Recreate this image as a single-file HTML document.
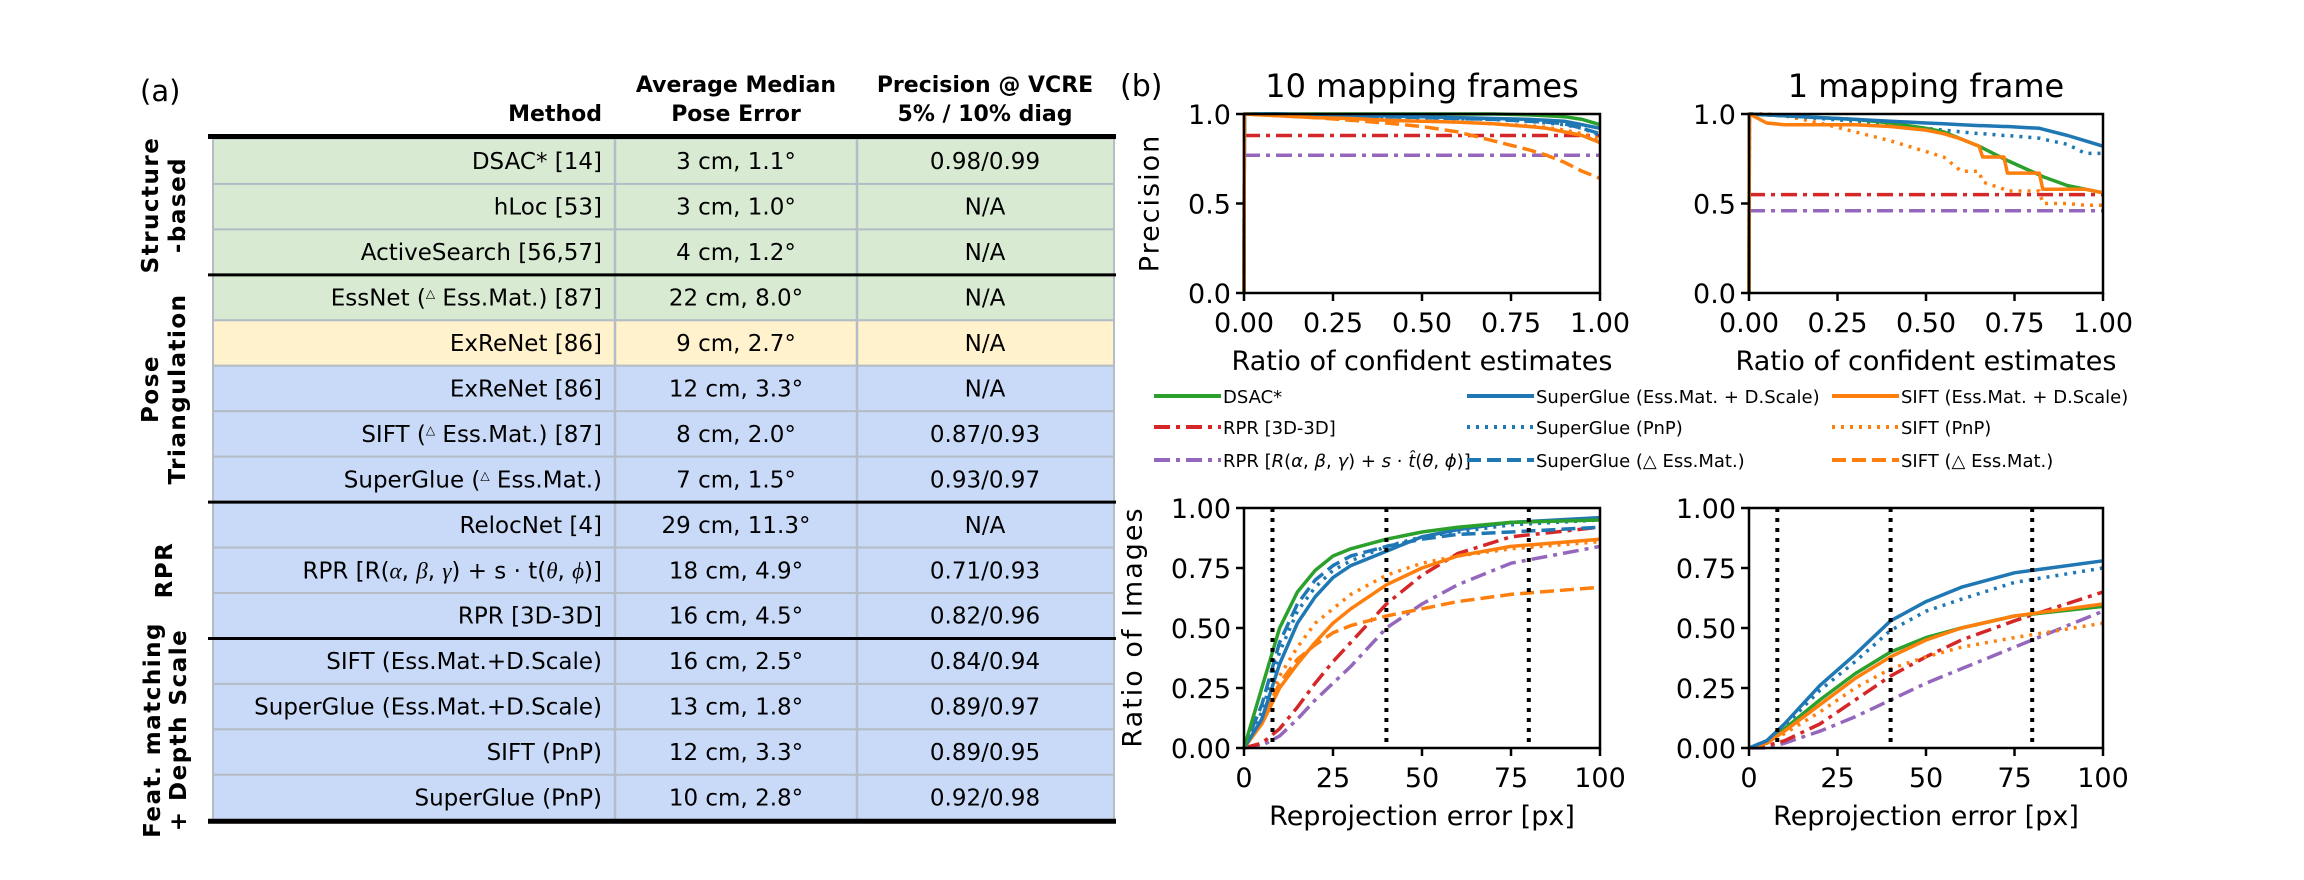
<!DOCTYPE html>
<html><head><meta charset="utf-8"><style>
html,body{margin:0;padding:0;background:#fff;}
svg{display:block;font-family:"DejaVu Sans","Liberation Sans",sans-serif;}
</style></head><body>
<svg id="fig" width="2304" height="880" viewBox="0 0 2304 880" xmlns="http://www.w3.org/2000/svg">
<text x="140" y="101" font-size="29">(a)</text>
<g id="table"></g>
<text x="1120" y="96" font-size="30">(b)</text>
<g id="charts"></g>
</svg>
<script>
const NS="http://www.w3.org/2000/svg";
function el(tag,attrs,parent,text){const e=document.createElementNS(NS,tag);for(const k in attrs)e.setAttribute(k,attrs[k]);if(text!==undefined)e.textContent=text;if(parent)parent.appendChild(e);return e;}

/* ---------- TABLE ---------- */
const rowMethods=["DSAC* [14]","hLoc [53]","ActiveSearch [56,57]","EssNet (△ Ess.Mat.) [87]","ExReNet [86]","ExReNet [86]","SIFT (△ Ess.Mat.) [87]","SuperGlue (△ Ess.Mat.)","RelocNet [4]","RPR_ROT","RPR [3D-3D]","SIFT (Ess.Mat.+D.Scale)","SuperGlue (Ess.Mat.+D.Scale)","SIFT (PnP)","SuperGlue (PnP)"];
const rowErrors=["3 cm, 1.1°","3 cm, 1.0°","4 cm, 1.2°","22 cm, 8.0°","9 cm, 2.7°","12 cm, 3.3°","8 cm, 2.0°","7 cm, 1.5°","29 cm, 11.3°","18 cm, 4.9°","16 cm, 4.5°","16 cm, 2.5°","13 cm, 1.8°","12 cm, 3.3°","10 cm, 2.8°"];
const rowPrec=["0.98/0.99","N/A","N/A","N/A","N/A","N/A","0.87/0.93","0.93/0.97","N/A","0.71/0.93","0.82/0.96","0.84/0.94","0.89/0.97","0.89/0.95","0.92/0.98"];
const rowColors=["#d9ead3","#d9ead3","#d9ead3","#d9ead3","#fff2cc","#c9daf8","#c9daf8","#c9daf8","#c9daf8","#c9daf8","#c9daf8","#c9daf8","#c9daf8","#c9daf8","#c9daf8"];
const T=document.getElementById('table');
const TL=213,C1=615,C2=857,TR=1114,TOP=138.5,RH=45.45;
let h;
h=el('text',{x:602,y:121,'font-size':22,'font-weight':'bold','text-anchor':'end'},T,'Method');

h=el('text',{x:736,y:92,'font-size':22,'font-weight':'bold','text-anchor':'middle'},T,'Average Median');

h=el('text',{x:736,y:121,'font-size':22,'font-weight':'bold','text-anchor':'middle'},T,'Pose Error');

h=el('text',{x:985,y:92,'font-size':22,'font-weight':'bold','text-anchor':'middle'},T,'Precision @ VCRE');

h=el('text',{x:985,y:121,'font-size':22,'font-weight':'bold','text-anchor':'middle'},T,'5% / 10% diag');

for(let i=0;i<rowMethods.length;i++){
  const y=TOP+i*RH;
  const r=el('rect',{x:TL,y:y,width:TR-TL,height:RH,fill:rowColors[i],stroke:'#b4bcc6','stroke-width':2},T);
  
  const by=y+RH/2+8;
  let t;
  if(rowMethods[i]==="RPR_ROT"){
    t=el('text',{x:602,y:by,'font-size':23,'text-anchor':'end'},T);
    t.innerHTML='RPR [R(<tspan font-family="Liberation Serif" font-style="italic">α</tspan>, <tspan font-family="Liberation Serif" font-style="italic">β</tspan>, <tspan font-family="Liberation Serif" font-style="italic">γ</tspan>) + s · t(<tspan font-family="Liberation Serif" font-style="italic">θ</tspan>, <tspan font-family="Liberation Serif" font-style="italic">ϕ</tspan>)]';
  } else if(rowMethods[i].indexOf('△')>=0){
    t=el('text',{x:602,y:by,'font-size':23,'text-anchor':'end'},T);
    const parts=rowMethods[i].split('△');
    t.innerHTML=parts[0]+'<tspan font-size="12" dy="-8">△</tspan><tspan dy="8">'+parts[1]+'</tspan>';
  } else {
    t=el('text',{x:602,y:by,'font-size':23,'text-anchor':'end'},T,rowMethods[i]);
  }
  
  t=el('text',{x:736,y:by,'font-size':23,'text-anchor':'middle'},T,rowErrors[i]);
  
  t=el('text',{x:985,y:by,'font-size':23,'text-anchor':'middle'},T,rowPrec[i]);
  
}
[C1,C2].forEach(x=>{const l=el('line',{x1:x,x2:x,y1:TOP,y2:TOP+15*RH,stroke:'#b4bcc6','stroke-width':2.5},T);});
[[TOP-2,5],[TOP+15*RH+1,5],[TOP+3*RH,3],[TOP+8*RH,3],[TOP+11*RH,3]].forEach(a=>{const l=el('line',{x1:208,x2:TR+2,y1:a[0],y2:a[0],stroke:'#000','stroke-width':a[1]},T);});
const groups=[["Structure","-based",205,150,177],["Pose","Triangulation",389,150,177],["RPR","",570,164,0],["Feat. matching","+ Depth Scale",730,152,178]];
groups.forEach(g=>{
  const t=el('text',{transform:`translate(0,${g[2]}) rotate(-90)`,'font-size':23,'letter-spacing':1.5,'font-weight':'bold','text-anchor':'middle'},T);
  
  el('tspan',{x:0,y:g[3]+8},t,g[0]);
  if(g[1])el('tspan',{x:0,y:g[4]+8},t,g[1]);
});

/* ---------- CHART DATA ---------- */
const COL={green:'#2ca02c',blue:'#1f77b4',orange:'#ff7f0e',red:'#d62728',purple:'#9467bd'};
const DASH={solid:'',dot:'3,6',dash:'14,6',dashdot:'16,6,4,6'};
const precTicksY=[0,0.5,1.0],precTickLabelsY=["0.0","0.5","1.0"];
const precTicksX=[0,0.25,0.5,0.75,1.0],precTickLabelsX=["0.00","0.25","0.50","0.75","1.00"];
const reTicksY=[0,0.25,0.5,0.75,1.0],reTickLabelsY=["0.00","0.25","0.50","0.75","1.00"];
const reTicksX=[0,25,50,75,100],reTickLabelsX=["0","25","50","75","100"];
const thresholds=[8,40,80];

const p10X=[0,0.001,0.1,0.2,0.3,0.4,0.5,0.6,0.7,0.8,0.85,0.9,0.95,1.0];
const p10_dsac=[0,1,1,1,1,1,1,1,1,0.995,0.99,0.985,0.97,0.94];
const p10_sgSolid=[0,1,1,0.995,0.99,0.99,0.985,0.98,0.975,0.97,0.965,0.96,0.94,0.92];
const p10_sgDot=[0,1,1,0.995,0.99,0.985,0.98,0.975,0.97,0.96,0.95,0.94,0.92,0.88];
const p10_sgDash=[0,1,1,0.995,0.99,0.985,0.98,0.975,0.97,0.96,0.955,0.945,0.92,0.89];
const p10_siftSolid=[0,1,0.99,0.98,0.975,0.965,0.96,0.955,0.945,0.93,0.92,0.9,0.88,0.84];
const p10_siftDot=[0,1,0.99,0.985,0.975,0.97,0.965,0.955,0.945,0.935,0.925,0.91,0.89,0.86];
const p10_siftDash=[0,1,0.99,0.98,0.965,0.95,0.93,0.9,0.85,0.8,0.77,0.73,0.68,0.64];
const p10_rpr3d=[0.88,0.88,0.88,0.88,0.88,0.88,0.88,0.88,0.88,0.88,0.88,0.88,0.88,0.88];
const p10_rprRot=[0.77,0.77,0.77,0.77,0.77,0.77,0.77,0.77,0.77,0.77,0.77,0.77,0.77,0.77];

const p1X=[0,0.001,0.05,0.1,0.2,0.3,0.4,0.5,0.55,0.6,0.65,0.66,0.72,0.73,0.82,0.83,0.9,0.95,1.0];
const p1_dsac=[0,1,0.995,0.99,0.98,0.97,0.95,0.92,0.9,0.86,0.82,0.81,0.75,0.74,0.66,0.65,0.6,0.58,0.56];
const p1_sgSolid=[0,1,0.995,0.99,0.98,0.97,0.96,0.95,0.945,0.94,0.935,0.935,0.93,0.93,0.92,0.915,0.88,0.85,0.82];
const p1_sgDot=[0,1,0.995,0.99,0.975,0.96,0.945,0.92,0.91,0.9,0.89,0.89,0.88,0.88,0.865,0.86,0.83,0.78,0.78];
const p1_siftSolid=[0,1,0.95,0.94,0.94,0.94,0.93,0.91,0.89,0.86,0.82,0.76,0.76,0.67,0.67,0.58,0.58,0.58,0.56];
const p1_siftDot=[0,1,1,0.99,0.95,0.9,0.85,0.79,0.76,0.68,0.68,0.62,0.58,0.57,0.57,0.5,0.5,0.49,0.49];
const p1_rpr3d=[0.55,0.55,0.55,0.55,0.55,0.55,0.55,0.55,0.55,0.55,0.55,0.55,0.55,0.55,0.55,0.55,0.55,0.55,0.55];
const p1_rprRot=[0.46,0.46,0.46,0.46,0.46,0.46,0.46,0.46,0.46,0.46,0.46,0.46,0.46,0.46,0.46,0.46,0.46,0.46,0.46];

const reX=[0,5,10,15,20,25,30,40,50,60,75,100];
const r10_dsac=[0,0.25,0.5,0.65,0.74,0.8,0.83,0.87,0.9,0.92,0.94,0.95];
const r10_sgSolid=[0,0.12,0.35,0.52,0.63,0.71,0.76,0.82,0.88,0.91,0.94,0.96];
const r10_sgDot=[0,0.15,0.4,0.57,0.67,0.74,0.78,0.84,0.88,0.9,0.93,0.95];
const r10_sgDash=[0,0.18,0.44,0.6,0.7,0.76,0.8,0.84,0.87,0.89,0.9,0.92];
const r10_siftSolid=[0,0.1,0.25,0.35,0.44,0.52,0.58,0.68,0.75,0.8,0.84,0.87];
const r10_siftDot=[0,0.12,0.3,0.42,0.52,0.58,0.64,0.72,0.77,0.8,0.83,0.86];
const r10_siftDash=[0,0.12,0.27,0.37,0.43,0.48,0.51,0.55,0.58,0.61,0.64,0.67];
const r10_rpr3d=[0,0.02,0.08,0.17,0.27,0.36,0.44,0.6,0.72,0.81,0.88,0.92];
const r10_rprRot=[0,0.01,0.05,0.12,0.2,0.27,0.34,0.5,0.6,0.68,0.77,0.84];

const r1X=[0,5,10,20,30,40,50,60,75,100];
const r1_sgSolid=[0,0.03,0.1,0.26,0.39,0.53,0.61,0.67,0.73,0.78];
const r1_sgDot=[0,0.03,0.09,0.24,0.36,0.49,0.57,0.62,0.69,0.75];
const r1_dsac=[0,0.02,0.08,0.2,0.31,0.4,0.46,0.5,0.55,0.59];
const r1_siftSolid=[0,0.02,0.07,0.18,0.29,0.38,0.45,0.5,0.55,0.6];
const r1_siftDot=[0,0.02,0.06,0.15,0.25,0.33,0.38,0.42,0.46,0.52];
const r1_rpr3d=[0,0.01,0.03,0.1,0.2,0.3,0.38,0.45,0.53,0.65];
const r1_rprRot=[0,0,0.02,0.07,0.13,0.2,0.27,0.33,0.42,0.57];

/* ---------- CHART DRAWING ---------- */
const C=document.getElementById('charts');
function axes(name,x0,x1,y0,y1,xmin,xmax,ymin,ymax){
  const g=el('g',{},C);
  
  
  return {g,sx:v=>x0+(v-xmin)/(xmax-xmin)*(x1-x0),sy:v=>y1-(v-ymin)/(ymax-ymin)*(y1-y0),x0,x1,y0,y1};
}
function series(ax,xs,ys,color,dash,name){
  const pts=xs.map((x,i)=>ax.sx(x).toFixed(1)+','+ax.sy(ys[i]).toFixed(1)).join(' ');
  const p=el('polyline',{points:pts,fill:'none',stroke:color,'stroke-width':3.5,'stroke-dasharray':dash,'stroke-linejoin':'round'},ax.g);
  
  
}
function frame(ax,xt,xtl,yt,ytl,xlabel,ylabel,fs){
  const r=el('rect',{x:ax.x0,y:ax.y0,width:ax.x1-ax.x0,height:ax.y1-ax.y0,fill:'none',stroke:'#000','stroke-width':2.5},ax.g);
  
  xt.forEach((v,i)=>{
    const x=ax.sx(v);
    const l=el('line',{x1:x,x2:x,y1:ax.y1,y2:ax.y1+8,stroke:'#000','stroke-width':2.5},ax.g);
    
    const t=el('text',{x:x,y:ax.y1+39,'font-size':fs,'text-anchor':'middle'},ax.g,xtl[i]);
    
  });
  yt.forEach((v,i)=>{
    const y=ax.sy(v);
    const l=el('line',{x1:ax.x0-8,x2:ax.x0,y1:y,y2:y,stroke:'#000','stroke-width':2.5},ax.g);
    
    const t=el('text',{x:ax.x0-13,y:y+10,'font-size':fs,'text-anchor':'end'},ax.g,ytl[i]);
    
  });
  const xl=el('text',{x:(ax.x0+ax.x1)/2,y:ax.y1+77,'font-size':fs,'text-anchor':'middle'},ax.g,xlabel);
  
  if(ylabel){
    const yl=el('text',{transform:`translate(${ax.x0-100},${(ax.y0+ax.y1)/2}) rotate(-90)`,'font-size':fs,'letter-spacing':2,'text-anchor':'middle','dominant-baseline':'middle'},ax.g,ylabel);
    
  }
}

const A1=axes('precision-10-frames',1244,1600,114,293,0,1,0,1);
let tt=el('text',{x:1422,y:97,'font-size':32,'text-anchor':'middle'},A1.g,'10 mapping frames');

series(A1,p10X,p10_rpr3d,COL.red,DASH.dashdot,'line-rpr-3d3d');
series(A1,p10X,p10_rprRot,COL.purple,DASH.dashdot,'line-rpr-rot');
series(A1,p10X,p10_siftDash,COL.orange,DASH.dash,'line-sift-essmat');
series(A1,p10X,p10_siftDot,COL.orange,DASH.dot,'line-sift-pnp');
series(A1,p10X,p10_sgDash,COL.blue,DASH.dash,'line-superglue-essmat');
series(A1,p10X,p10_sgDot,COL.blue,DASH.dot,'line-superglue-pnp');
series(A1,p10X,p10_dsac,COL.green,DASH.solid,'line-dsac');
series(A1,p10X,p10_sgSolid,COL.blue,DASH.solid,'line-superglue-dscale');
series(A1,p10X,p10_siftSolid,COL.orange,DASH.solid,'line-sift-dscale');
frame(A1,precTicksX,precTickLabelsX,precTicksY,precTickLabelsY,'Ratio of confident estimates','Precision',27);
A1.g.lastChild.setAttribute('transform',`translate(1151,203) rotate(-90)`);

const A2=axes('precision-1-frame',1749,2103,114,293,0,1,0,1);
tt=el('text',{x:1926,y:97,'font-size':32,'text-anchor':'middle'},A2.g,'1 mapping frame');

series(A2,p1X,p1_rpr3d,COL.red,DASH.dashdot,'line-rpr-3d3d');
series(A2,p1X,p1_rprRot,COL.purple,DASH.dashdot,'line-rpr-rot');
series(A2,p1X,p1_siftDot,COL.orange,DASH.dot,'line-sift-pnp');
series(A2,p1X,p1_sgDot,COL.blue,DASH.dot,'line-superglue-pnp');
series(A2,p1X,p1_dsac,COL.green,DASH.solid,'line-dsac');
series(A2,p1X,p1_sgSolid,COL.blue,DASH.solid,'line-superglue-dscale');
series(A2,p1X,p1_siftSolid,COL.orange,DASH.solid,'line-sift-dscale');
frame(A2,precTicksX,precTickLabelsX,precTicksY,precTickLabelsY,'Ratio of confident estimates','',27);

const A3=axes('reprojection-10-frames',1244,1600,508,748,0,100,0,1);
series(A3,reX,r10_rprRot,COL.purple,DASH.dashdot,'line-rpr-rot');
series(A3,reX,r10_rpr3d,COL.red,DASH.dashdot,'line-rpr-3d3d');
series(A3,reX,r10_siftDash,COL.orange,DASH.dash,'line-sift-essmat');
series(A3,reX,r10_siftDot,COL.orange,DASH.dot,'line-sift-pnp');
series(A3,reX,r10_siftSolid,COL.orange,DASH.solid,'line-sift-dscale');
series(A3,reX,r10_sgDash,COL.blue,DASH.dash,'line-superglue-essmat');
series(A3,reX,r10_sgDot,COL.blue,DASH.dot,'line-superglue-pnp');
series(A3,reX,r10_sgSolid,COL.blue,DASH.solid,'line-superglue-dscale');
series(A3,reX,r10_dsac,COL.green,DASH.solid,'line-dsac');
frame(A3,reTicksX,reTickLabelsX,reTicksY,reTickLabelsY,'Reprojection error [px]','Ratio of Images',27);
A3.g.lastChild.setAttribute('transform',`translate(1134,627) rotate(-90)`);

const A4=axes('reprojection-1-frame',1749,2103,508,748,0,100,0,1);
series(A4,r1X,r1_rprRot,COL.purple,DASH.dashdot,'line-rpr-rot');
series(A4,r1X,r1_rpr3d,COL.red,DASH.dashdot,'line-rpr-3d3d');
series(A4,r1X,r1_siftDot,COL.orange,DASH.dot,'line-sift-pnp');
series(A4,r1X,r1_sgDot,COL.blue,DASH.dot,'line-superglue-pnp');
series(A4,r1X,r1_dsac,COL.green,DASH.solid,'line-dsac');
series(A4,r1X,r1_siftSolid,COL.orange,DASH.solid,'line-sift-dscale');
series(A4,r1X,r1_sgSolid,COL.blue,DASH.solid,'line-superglue-dscale');
frame(A4,reTicksX,reTickLabelsX,reTicksY,reTickLabelsY,'Reprojection error [px]','',27);

[A3,A4].forEach(ax=>{
  thresholds.forEach(v=>{
    const l=el('line',{x1:ax.sx(v),x2:ax.sx(v),y1:ax.y0,y2:ax.y1,stroke:'#000','stroke-width':4,'stroke-dasharray':'4,6'},ax.g);
    
    
  });
});

const L=el('g',{},C);


const legendLabels=["DSAC*","RPR [3D-3D]","RPR_ROT","SuperGlue (Ess.Mat. + D.Scale)","SuperGlue (PnP)","SuperGlue (△ Ess.Mat.)","SIFT (Ess.Mat. + D.Scale)","SIFT (PnP)","SIFT (△ Ess.Mat.)"];
const legendColors=[COL.green,COL.red,COL.purple,COL.blue,COL.blue,COL.blue,COL.orange,COL.orange,COL.orange];
const legendDash=[DASH.solid,DASH.dashdot,DASH.dashdot,DASH.solid,DASH.dot,DASH.dash,DASH.solid,DASH.dot,DASH.dash];
const legX=[1154,1467,1832],legY=[396,427,460];
legendLabels.forEach((lab,i)=>{
  const cx=legX[Math.floor(i/3)],cy=legY[i%3];
  const eg=el('g',{},L);
  
  
  el('line',{x1:cx,x2:cx+67,y1:cy,y2:cy,stroke:legendColors[i],'stroke-width':4,'stroke-dasharray':legendDash[i]},eg);
  const t=el('text',{x:cx+69,y:cy+7,'font-size':18},eg);
  if(lab==="RPR_ROT"){
    t.innerHTML='RPR [<tspan font-style="italic">R</tspan>(<tspan font-style="italic">α</tspan>, <tspan font-style="italic">β</tspan>, <tspan font-style="italic">γ</tspan>) + <tspan font-style="italic">s</tspan> · <tspan font-style="italic">t̂</tspan>(<tspan font-style="italic">θ</tspan>, <tspan font-style="italic">ϕ</tspan>)]';
  } else t.textContent=lab;
});
</script>
</body></html>
